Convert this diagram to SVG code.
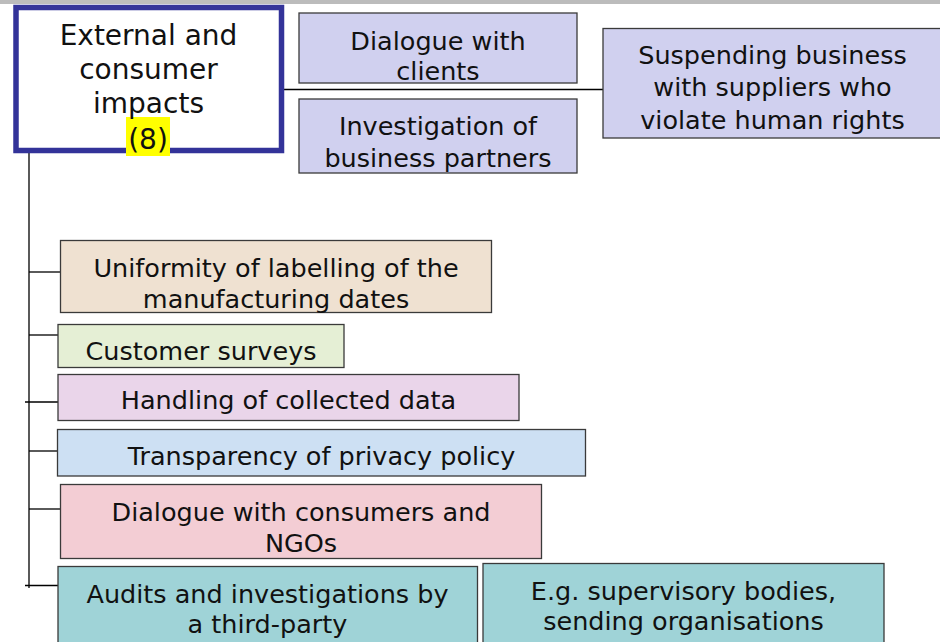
<svg xmlns="http://www.w3.org/2000/svg" width="940" height="642" viewBox="0 0 940 642">
<style>
.box{stroke:#3a3a3a;stroke-width:1.3}
.t{font-family:"DejaVu Sans","Verdana",sans-serif;font-size:25.5px;fill:#111;text-anchor:middle}
.tm{font-family:"DejaVu Sans","Verdana",sans-serif;font-size:28px;fill:#111;text-anchor:middle}
.c{stroke:#000;stroke-width:1.3;fill:none}
</style>
<rect x="0" y="0" width="940" height="4" fill="#bcbcbc"/>
<g id="connectors">
<line class="c" x1="277" y1="89.5" x2="603" y2="89.5"/>
<line class="c" x1="29" y1="153" x2="29" y2="588"/>
<line class="c" x1="29" y1="272" x2="60" y2="272"/>
<line class="c" x1="29" y1="335" x2="58" y2="335"/>
<line class="c" x1="25" y1="402" x2="58" y2="402"/>
<line class="c" x1="29" y1="451" x2="58" y2="451"/>
<line class="c" x1="29" y1="509" x2="60" y2="509"/>
<line class="c" x1="25" y1="585.5" x2="58" y2="585.5"/>
</g>
<g id="main">
<rect x="16" y="7.5" width="265.5" height="143" fill="#fff" stroke="#333399" stroke-width="5.5"/>
<rect x="126" y="117" width="44" height="39" fill="#ffff00"/>
<text class="tm" x="148.5" y="45">External and</text>
<text class="tm" x="148.5" y="79">consumer</text>
<text class="tm" x="148.5" y="113">impacts</text>
<text class="tm" x="148" y="149">(8)</text>
</g>
<g id="dialogue-clients">
<rect class="box" x="299" y="13" width="278" height="70" fill="#d0d0ef"/>
<text class="t" x="438" y="50">Dialogue with</text>
<text class="t" x="438" y="80">clients</text>
</g>
<g id="investigation">
<rect class="box" x="299" y="99" width="278" height="74" fill="#d0d0ef"/>
<text class="t" x="438" y="135">Investigation of</text>
<text class="t" x="438" y="166.5">business partners</text>
</g>
<g id="suspending">
<rect class="box" x="603" y="28.5" width="340" height="109.5" fill="#d0d0ef"/>
<text class="t" x="772.5" y="63.5">Suspending business</text>
<text class="t" x="772.5" y="96">with suppliers who</text>
<text class="t" x="772.5" y="128.5">violate human rights</text>
</g>
<g id="uniformity">
<rect class="box" x="60.5" y="240.5" width="431" height="72" fill="#efe1d1"/>
<text class="t" x="276" y="276.5">Uniformity of labelling of the</text>
<text class="t" x="276" y="307.5">manufacturing dates</text>
</g>
<g id="customer-surveys">
<rect class="box" x="58" y="324.5" width="286" height="43" fill="#e5efd5"/>
<text class="t" x="201" y="360">Customer surveys</text>
</g>
<g id="handling">
<rect class="box" x="58" y="374.5" width="461" height="46" fill="#ead5ea"/>
<text class="t" x="288.5" y="409">Handling of collected data</text>
</g>
<g id="transparency">
<rect class="box" x="57.5" y="429.5" width="528" height="46.5" fill="#cde0f3"/>
<text class="t" x="321.5" y="465">Transparency of privacy policy</text>
</g>
<g id="dialogue-consumers">
<rect class="box" x="60.5" y="484.5" width="481" height="74" fill="#f3cdd4"/>
<text class="t" x="301" y="520.5">Dialogue with consumers and</text>
<text class="t" x="301" y="551.5">NGOs</text>
</g>
<g id="audits">
<rect class="box" x="58" y="566.5" width="419.5" height="80" fill="#9fd3d7"/>
<text class="t" x="267.5" y="602.5">Audits and investigations by</text>
<text class="t" x="267.5" y="632.5">a third-party</text>
</g>
<g id="eg-bodies">
<rect class="box" x="483" y="563.5" width="401" height="83" fill="#9fd3d7"/>
<text class="t" x="683.5" y="600">E.g. supervisory bodies,</text>
<text class="t" x="683.5" y="630">sending organisations</text>
</g>
</svg>
